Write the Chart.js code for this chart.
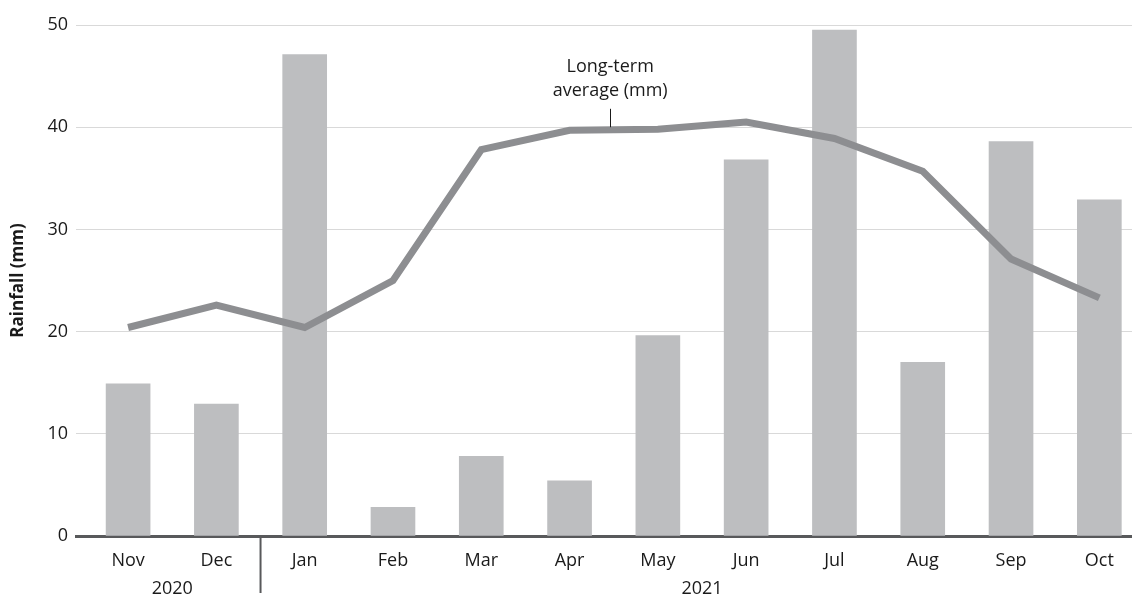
<!DOCTYPE html>
<html>
<head>
<meta charset="utf-8">
<script src="https://cdn.jsdelivr.net/npm/chart.js@4/dist/chart.umd.min.js"></script>
<style>
  body { margin: 0; background: #fff; }
  #wrap { width: 1132px; height: 598px; }
</style>
</head>
<body>
<div id="wrap"><canvas id="grafico" width="1132" height="598"></canvas></div>
<script>
const meses = ["Nov", "Dec", "Jan", "Feb", "Mar", "Apr", "May", "Jun", "Jul", "Aug", "Sep", "Oct"];
const chuva = [14.9, 12.9, 47.1, 2.8, 7.8, 5.4, 19.6, 36.8, 49.5, 17.0, 38.6, 32.9];
const media = [20.4, 22.6, 20.4, 25.0, 37.8, 39.7, 39.8, 40.5, 38.9, 35.7, 27.1, 23.3];
const anos = [
  { texto: "2020", inicio: 0, fim: 1 },
  { texto: "2021", inicio: 2, fim: 11 }
];
const yTicks = [0, 10, 20, 30, 40, 50];

const fonte = "'Open Sans', sans-serif";

const pontosChuva = chuva.map((v, i) => ({ x: i, y: v }));
const pontosMedia = media.map((v, i) => ({ x: i, y: v }));

const extras = {
  id: "extras",
  afterDraw(chart) {
    const { ctx, scales: { x, y } } = chart;
    const base = y.getPixelForValue(0);
    ctx.save();

    // separador entre anos
    const sep = x.getPixelForValue(1.5);
    ctx.strokeStyle = "#58595b";
    ctx.lineWidth = 2;
    ctx.beginPath();
    ctx.moveTo(sep, base);
    ctx.lineTo(sep, base + 57);
    ctx.stroke();

    // anos
    ctx.fillStyle = "#1a1a1a";
    ctx.font = "18px " + fonte;
    ctx.textAlign = "center";
    ctx.textBaseline = "middle";
    anos.forEach(a => {
      const cx = (x.getPixelForValue(a.inicio) + x.getPixelForValue(a.fim)) / 2;
      ctx.fillText(a.texto, cx, base + 53);
    });

    // rotulo da linha
    const lx = x.getPixelForValue(5.46);
    ctx.fillText("Long-term", lx, y.getPixelForValue(45.9));
    ctx.fillText("average (mm)", lx, y.getPixelForValue(43.6));
    ctx.strokeStyle = "#1a1a1a";
    ctx.lineWidth = 1;
    ctx.beginPath();
    ctx.moveTo(Math.round(lx) + 0.5, y.getPixelForValue(41.8));
    ctx.lineTo(Math.round(lx) + 0.5, y.getPixelForValue(40.0));
    ctx.stroke();

    ctx.restore();
  }
};

new Chart(document.getElementById("grafico"), {
  type: "bar",
  data: {
    datasets: [
      {
        type: "line",
        label: "Long-term average (mm)",
        data: pontosMedia,
        borderColor: "#8d8e91",
        borderWidth: 7,
        pointRadius: 0,
        tension: 0,
        borderJoinStyle: "miter",
        order: 0
      },
      {
        label: "Rainfall (mm)",
        data: pontosChuva,
        backgroundColor: "#bdbec0",
        barThickness: 44,
        order: 1
      }
    ]
  },
  plugins: [extras],
  options: {
    responsive: false,
    animation: false,
    layout: { padding: { top: 25, right: 0, left: 0, bottom: 0 } },
    plugins: {
      legend: { display: false },
      tooltip: { enabled: false }
    },
    scales: {
      x: {
        type: "linear",
        offset: false,
        min: -0.59,
        max: 11.37,
        afterFit: s => { s.height = 62; },
        grid: { display: false, offset: false },
        border: { color: "#58595b", width: 3 },
        ticks: {
          stepSize: 1,
          includeBounds: false,
          autoSkip: false,
          maxRotation: 0,
          padding: 6,
          color: "#1a1a1a",
          font: { family: fonte, size: 18 },
          callback: v => meses[v] || ""
        }
      },
      y: {
        min: 0,
        max: 50,
        afterFit: s => { s.width = 76; },
        afterBuildTicks: s => { s.ticks = yTicks.map(v => ({ value: v })); },
        grid: { color: "#d9d9d9", lineWidth: 1, drawTicks: false },
        border: { display: false },
        ticks: {
          padding: 8,
          color: "#1a1a1a",
          font: { family: fonte, size: 18 }
        },
        title: {
          display: true,
          text: "Rainfall (mm)",
          color: "#1a1a1a",
          font: { family: fonte, size: 17, weight: "bold" },
          padding: { top: 8, bottom: 0 }
        }
      }
    }
  }
});
</script>
</body>
</html>
